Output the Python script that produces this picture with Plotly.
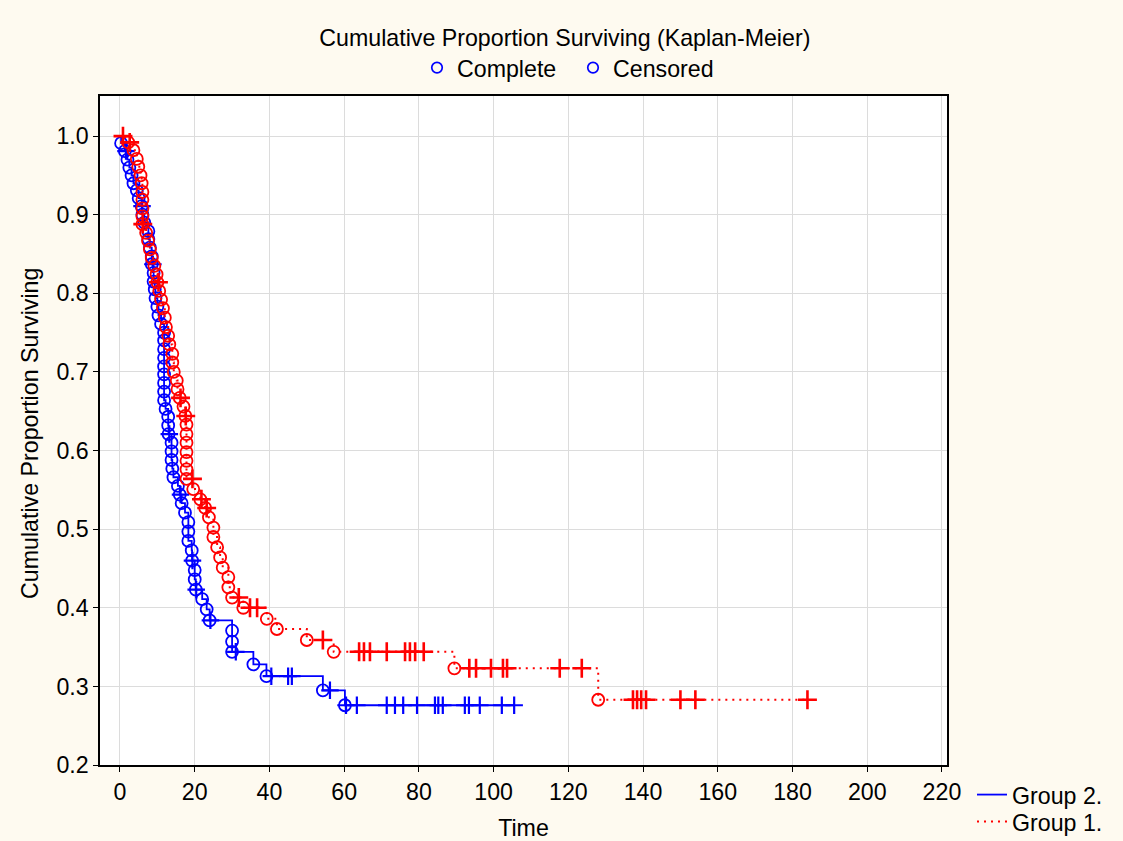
import numpy as np
import plotly.graph_objects as go

# ---- Group 2 (blue, solid) ----
g2_event_t = [0.3, 1.3, 2.0, 2.5, 3.1, 3.6, 4.5, 5.0, 5.8, 6.0, 6.5, 7.6, 7.6, 8.0,
              8.5, 8.5, 9.0, 9.0, 9.3, 9.5, 10.0, 10.3, 11.0,
              11.8, 11.8, 11.8, 11.8, 11.8, 11.8, 11.8, 11.8, 11.8,
              12.2, 12.9, 12.9, 13.0, 13.8, 13.8, 13.8, 14.0, 14.3, 15.5, 16.0,
              16.5, 17.4, 18.3, 18.3, 18.3, 19.2, 19.3, 20.0, 20.0, 20.3, 22.0,
              23.2, 24.0, 30.0, 30.0, 30.0, 35.7, 39.2, 54.3, 60.2]
g2_event_s = [0.991, 0.981, 0.970, 0.960, 0.950, 0.940, 0.931, 0.921, 0.911, 0.900,
              0.890, 0.879, 0.869, 0.858, 0.847, 0.837, 0.826, 0.815, 0.805, 0.794,
              0.783, 0.772, 0.761,
              0.750, 0.740, 0.729, 0.718, 0.707, 0.697, 0.686, 0.675, 0.664,
              0.653, 0.643, 0.632, 0.621, 0.610, 0.599, 0.588, 0.577, 0.566,
              0.555, 0.544, 0.533, 0.521, 0.509, 0.497, 0.485, 0.473, 0.460,
              0.448, 0.436, 0.423, 0.411, 0.398, 0.384, 0.371, 0.357, 0.344,
              0.328, 0.313, 0.295, 0.276]
g2_censor_t = [1.6, 5.9, 8.8, 13.2, 16.2, 19.4, 20.4, 24.2, 31.0, 40.5, 45.0, 46.0,
               56.2, 60.5, 63.4, 71.4, 73.6, 75.8, 79.5, 84.3, 85.2, 86.4, 92.3,
               93.4, 96.3, 102.2, 105.5]

# ---- Group 1 (red, dotted) ----
g1_event_t = [2.2, 3.6, 4.5, 4.9, 5.5, 5.8, 6.0, 6.0, 6.0, 6.0, 6.0, 7.0, 7.5, 8.0,
              8.5, 9.2, 9.8, 10.0, 10.5, 11.0, 11.5, 12.0, 12.3, 12.9, 13.2, 14.0,
              14.0, 14.4, 15.2, 15.4, 16.0, 17.0, 17.5,
              17.8, 17.8, 17.8, 17.8, 17.8, 17.8, 17.8,
              19.6, 21.5, 22.8, 23.8, 25.0, 25.0, 26.0, 26.8, 27.5, 29.0, 29.0,
              30.0, 33.0, 39.3, 42.0, 50.0, 57.2, 89.5, 128.0]
g1_event_s = [0.992, 0.982, 0.971, 0.961, 0.950, 0.940, 0.929, 0.919, 0.908, 0.898,
              0.888, 0.877, 0.867, 0.856, 0.845, 0.835, 0.824, 0.814, 0.803, 0.792,
              0.781, 0.769, 0.757, 0.746, 0.735, 0.723, 0.712, 0.700, 0.689, 0.678,
              0.667, 0.656, 0.644,
              0.633, 0.621, 0.610, 0.598, 0.587, 0.576, 0.564,
              0.551, 0.538, 0.527, 0.515, 0.502, 0.490, 0.477, 0.464, 0.451, 0.439,
              0.426, 0.413, 0.400, 0.386, 0.373, 0.359, 0.344, 0.323, 0.283]
g1_censor_t = [0.8, 2.6, 6.1, 10.3, 16.2, 17.6, 19.4, 21.8, 23.2, 31.8, 34.8, 36.7,
               54.3, 64.0, 65.3, 66.9, 71.4, 76.3, 77.6, 79.0, 81.3, 93.5, 95.3,
               99.3, 102.5, 103.6, 117.7, 123.6, 137.3, 138.4, 139.5, 140.8, 150.0,
               154.0, 184.0]

x_ticks = [0, 20, 40, 60, 80, 100, 120, 140, 160, 180, 200, 220]
y_ticks = [0.2, 0.3, 0.4, 0.5, 0.6, 0.7, 0.8, 0.9, 1.0]
y_labels = ["0.2", "0.3", "0.4", "0.5", "0.6", "0.7", "0.8", "0.9", "1.0"]

FONT = "Liberation Sans, Arial, sans-serif"
FS = 23.2
BLUE = "#0000ff"
RED = "#ff0000"
BG = "#fefaf0"


def level_at(ev_t, ev_s, t):
    """Survival level in effect at time t (events at t already applied)."""
    idx = np.searchsorted(np.asarray(ev_t), t, side="right") - 1
    return 1.0 if idx < 0 else ev_s[idx]


def step_path(ev_t, ev_s, cen_t):
    pts = [(t, s) for t, s in zip(ev_t, ev_s)]
    pts += [(t, level_at(ev_t, ev_s, t)) for t in cen_t]
    pts.sort(key=lambda p: (p[0], -p[1]))
    xs = [0.0] + [p[0] for p in pts]
    ys = [1.0] + [p[1] for p in pts]
    return xs, ys


fig = go.Figure()

groups = [
    ("Group 2.", "legend2", g2_event_t, g2_event_s, g2_censor_t, BLUE,
     dict(color=BLUE, width=1.8), 2.2, 12.5),
    ("Group 1.", "legend3", g1_event_t, g1_event_s, g1_censor_t, RED,
     dict(color=RED, width=2, dash="2px,5px"), 2.6, 13.5),
]

for name, leg, ev_t, ev_s, cen_t, col, line, cross_w, cross_sz in groups:
    xs, ys = step_path(ev_t, ev_s, cen_t)
    fig.add_trace(go.Scatter(x=xs, y=ys, mode="lines", line=dict(shape="hv", **line),
                             name=name, legend=leg, hoverinfo="skip"))
    fig.add_trace(go.Scatter(x=ev_t, y=ev_s, mode="markers", showlegend=False,
                             marker=dict(symbol="circle-open", size=12,
                                         color=col, line=dict(width=1.8, color=col))))
    cen_s = [level_at(ev_t, ev_s, t) for t in cen_t]
    fig.add_trace(go.Scatter(x=cen_t, y=cen_s, mode="markers", showlegend=False,
                             marker=dict(symbol="cross-thin-open", size=cross_sz,
                                         color=col, line=dict(width=cross_w, color=col))))

# marker key shown under the title
for label, leg in [("Complete", "legend"), ("Censored", "legend4")]:
    fig.add_trace(go.Scatter(x=[None], y=[None], mode="markers", name=label,
                             legend=leg,
                             marker=dict(symbol="circle-open", size=10.5, color=BLUE,
                                         line=dict(width=1.7, color=BLUE))))

axis_common = dict(
    showline=True, linecolor="black", linewidth=1.5, mirror=True,
    ticks="outside", ticklen=5, tickwidth=1.2, tickcolor="black",
    showgrid=True, gridcolor="#dcdcdc", gridwidth=1, zeroline=False,
    tickfont=dict(family=FONT, size=FS, color="black"),
)

legend_common = dict(orientation="v", xref="container", yref="container",
                     xanchor="left", yanchor="middle",
                     bgcolor="rgba(0,0,0,0)", font=dict(size=FS))

fig.update_layout(
    width=1123, height=841,
    paper_bgcolor=BG, plot_bgcolor="white",
    margin=dict(l=100, r=176, t=96, b=76, autoexpand=False),
    font=dict(family=FONT, size=FS, color="black"),
    title=dict(text="Cumulative Proportion Surviving (Kaplan-Meier)",
               x=0.503, xanchor="center", y=0.955, yanchor="middle",
               font=dict(family=FONT, size=FS, color="black")),
    xaxis=dict(range=[-5.35, 221.35], tickvals=x_ticks,
               title=dict(text="Time", standoff=16, font=dict(size=FS)),
               **axis_common),
    yaxis=dict(range=[0.2, 1.051], tickvals=y_ticks, ticktext=y_labels,
               **axis_common),
    annotations=[dict(text="Cumulative Proportion Surviving", textangle=-90,
                      xref="paper", yref="paper", x=-0.0826, y=0.495,
                      xanchor="center", yanchor="middle", showarrow=False,
                      font=dict(family=FONT, size=FS, color="black"))],
    legend=dict(x=417 / 1123, y=1 - 68 / 841, **legend_common),
    legend4=dict(x=573 / 1123, y=1 - 68 / 841, **legend_common),
    legend2=dict(x=972 / 1123, y=1 - 795 / 841, **legend_common),
    legend3=dict(x=972 / 1123, y=1 - 822 / 841, **legend_common),
    showlegend=True,
)

fig.write_html("out.html")
